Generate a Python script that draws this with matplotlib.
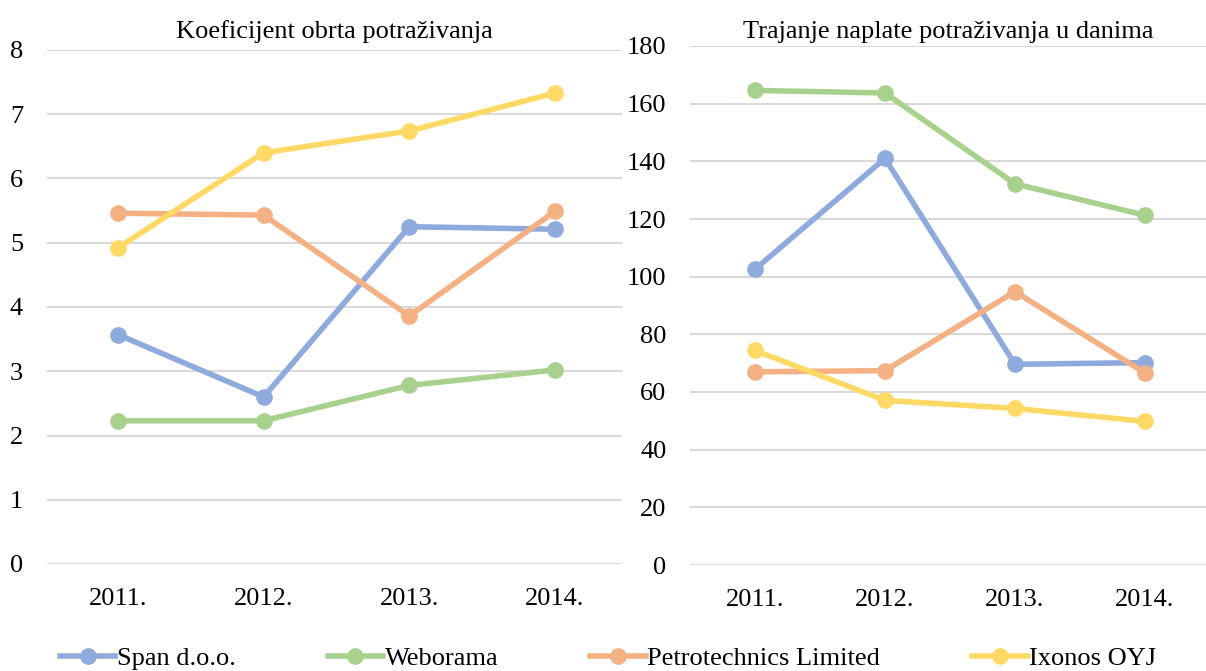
import matplotlib.pyplot as plt
from matplotlib.lines import Line2D

years = ["2011.", "2012.", "2013.", "2014."]
companies = ["Span d.o.o.", "Weborama", "Petrotechnics Limited", "Ixonos OYJ"]
colors = ["#8FAADC", "#A9D18E", "#F4B183", "#FFD966"]

# Koeficijent obrta potraživanja
turnover = {
    "Span d.o.o.": [3.57, 2.60, 5.25, 5.21],
    "Weborama": [2.23, 2.23, 2.78, 3.02],
    "Petrotechnics Limited": [5.46, 5.43, 3.86, 5.49],
    "Ixonos OYJ": [4.92, 6.40, 6.74, 7.33],
}
# Trajanje naplate potraživanja u danima
days = {
    "Span d.o.o.": [102.6, 141.0, 69.6, 70.2],
    "Weborama": [164.6, 163.7, 132.2, 121.3],
    "Petrotechnics Limited": [67.0, 67.4, 94.8, 66.6],
    "Ixonos OYJ": [74.4, 57.1, 54.3, 49.8],
}

plt.rcParams["font.family"] = ["Liberation Serif", "DejaVu Serif"]
W, H = 1206, 671
FS = 19
fig = plt.figure(figsize=(W / 100, H / 100), dpi=100)


def px_axes(x0, x1, ytop, ybot):
    return fig.add_axes([x0 / W, (H - ybot) / H, (x1 - x0) / W, (ybot - ytop) / H])


def style(ax, title, title_y):
    ax.grid(axis="y", color="#D9D9D9", linewidth=1.5)
    ax.set_axisbelow(True)
    for s in ax.spines.values():
        s.set_visible(False)
    ax.tick_params(length=0, labelsize=FS)
    ax.tick_params(axis="x", pad=17)
    ax.set_title(title, fontsize=FS, y=title_y)


ax1 = px_axes(47, 622, 50, 564)
ax2 = px_axes(690, 1206, 46, 565)

x = range(len(years))
for name, c in zip(companies, colors):
    ax1.plot(x, turnover[name], color=c, lw=4, marker="o", ms=11, clip_on=False)
    ax2.plot(x, days[name], color=c, lw=4, marker="o", ms=11, clip_on=False)

ax1.set_ylim(0, 8)
ax1.set_yticks(range(0, 9))
s1 = 145.67
ax1.set_xlim((47 - 118) / s1, (622 - 118) / s1)
ax1.set_xticks(list(x), years)
style(ax1, "Koeficijent obrta potraživanja", 1.007)
for t in ax1.get_yticklabels():
    t.set_horizontalalignment("center")
ax1.tick_params(axis="y", pad=22)

ax2.set_ylim(0, 180)
ax2.set_yticks(range(0, 181, 20))
s2 = 130.0
ax2.set_xlim((690 - 755) / s2, (1206 - 755) / s2)
ax2.set_xticks(list(x), years)
style(ax2, "Trajanje naplate potraživanja u danima", 1.0)
ax2.tick_params(axis="y", pad=17)

handles = [Line2D([], [], color=c, lw=4, marker="o", ms=11) for c in colors]
fig.legend(handles, companies, loc="center", bbox_to_anchor=(608 / W, 1 - 658 / H),
           ncol=4, frameon=False, fontsize=FS, handlelength=2.1, handletextpad=0.05,
           columnspacing=3.5, borderpad=0, borderaxespad=0)

fig.savefig("out.png", dpi=100)
